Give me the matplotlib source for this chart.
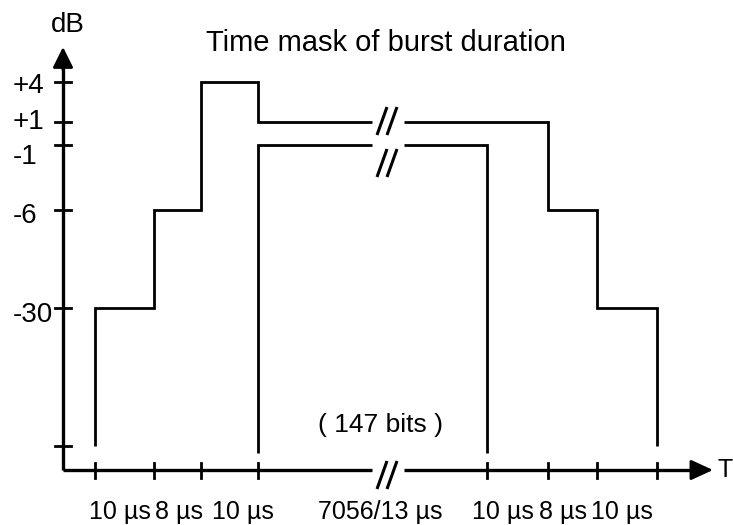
import matplotlib
matplotlib.use("Agg")
import matplotlib.pyplot as plt

# ---- data ----
segment_labels = ['10 µs', '8 µs', '10 µs', '7056/13 µs', '10 µs', '8 µs', '10 µs']
segment_widths = [59, 47, 57, 229, 61, 49, 60]          # schematic widths
level_names = ['floor', '-30', '-6', '-1', '+1', '+4']
level_heights = [24, 162, 260, 325, 348, 388]           # schematic heights
upper_mask = ['-30', '-6', '+4', '+1', '+1', '-6', '-30']
lower_mask = [None, None, None, '-1', None, None, None]
title = 'Time mask of burst duration'
bits_label = '( 147 bits )'

x_start = 32
edges = [x_start]
for w in segment_widths:
    edges.append(edges[-1] + w)
lvl = dict(zip(level_names, level_heights))

plt.rcParams['font.family'] = ['Liberation Sans', 'DejaVu Sans']
fig = plt.figure(figsize=(7.33, 5.25), dpi=100)
ax = fig.add_axes([0, 0, 1, 1])
ax.set_xlim(-63, 670)
ax.set_ylim(-55, 470)
ax.axis('off')

LW = 2.0
gap = (309, 341)

def draw_steps(xs, ys, floor):
    px, py = [xs[0]], [floor]
    for i, y in enumerate(ys):
        px += [xs[i], xs[i + 1]]
        py += [y, y]
    px.append(xs[-1]); py.append(floor)
    out_x, out_y = [], []
    for i in range(len(px)):
        if i > 0 and py[i] == py[i - 1] and px[i - 1] < gap[0] and px[i] > gap[1]:
            out_x += [gap[0], float('nan'), gap[1]]
            out_y += [py[i], float('nan'), py[i]]
        out_x.append(px[i]); out_y.append(py[i])
    ax.plot(out_x, out_y, color='black', lw=LW, solid_joinstyle='miter',
            solid_capstyle='butt')

# upper mask
draw_steps(edges, [lvl[l] for l in upper_mask], lvl['floor'])
# lower mask
idx = [i for i, l in enumerate(lower_mask) if l is not None]
i0, i1 = idx[0], idx[-1] + 1
draw_steps(edges[i0:i1 + 1], [lvl[lower_mask[i]] for i in idx], lvl['floor'] - 7)

# axes with arrows
ax.plot([0, 0], [0, 405], color='black', lw=LW + 0.4, solid_capstyle='butt')
ax.plot([0, gap[0]], [0, 0], color='black', lw=LW + 0.4, solid_capstyle='butt')
ax.plot([gap[1], 635], [0, 0], color='black', lw=LW + 0.4, solid_capstyle='butt')
ax.annotate('', xy=(0, 423), xytext=(0, 400),
            arrowprops=dict(arrowstyle='-|>,head_length=1.25,head_width=0.62',
                            color='black', lw=LW, shrinkA=0, shrinkB=0,
                            mutation_scale=10))
ax.annotate('', xy=(650, 0), xytext=(628, 0),
            arrowprops=dict(arrowstyle='-|>,head_length=1.35,head_width=0.62',
                            color='black', lw=LW, shrinkA=0, shrinkB=0,
                            mutation_scale=10))

# ticks
for h in level_heights:
    ax.plot([-8, 8], [h, h], color='black', lw=LW)
for e in edges:
    ax.plot([e, e], [-7.5, 7.5], color='black', lw=LW)

# break marks
def slashes(cy):
    for cx in (319, 329):
        ax.plot([cx - 5, cx + 5], [cy - 14, cy + 14], color='black', lw=2.2,
                solid_capstyle='butt')
slashes(lvl['+1'] + 1)
slashes(lvl['-1'] - 18)
slashes(-5)

# y labels
label_offsets = {'-30': -7, '-6': -6, '-1': -12, '+1': 0, '+4': -4}
for name in level_names[1:]:
    ax.text(-50, lvl[name] + label_offsets[name], name, ha='left', va='center',
            fontsize=20)
# x labels
label_centers = [57, 116, 180, 317, 440, 500, 559]
for c, t in zip(label_centers, segment_labels):
    ax.text(c, -49, t, ha='center', va='baseline', fontsize=18)

ax.text(323, 419, title, ha='center', va='baseline', fontsize=21)
ax.text(5, 438, 'dB', ha='center', va='baseline', fontsize=20)
ax.text(655, 0, 'T', ha='left', va='center', fontsize=18)
ax.text(318, 45, bits_label, ha='center', va='center', fontsize=19)

fig.savefig('out.png', dpi=100, facecolor='white')
